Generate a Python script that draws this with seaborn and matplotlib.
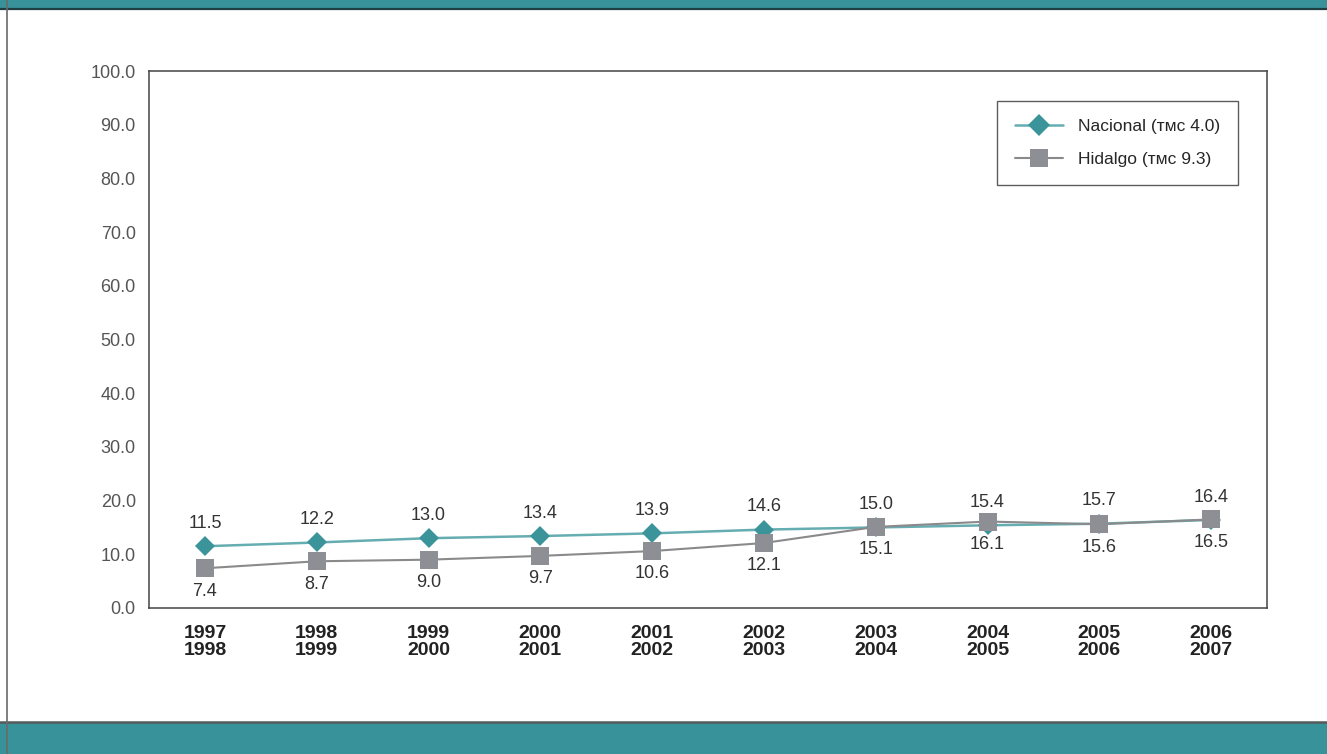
import numpy as np
import pandas as pd
import matplotlib.pyplot as plt
import seaborn as sns
from matplotlib.lines import Line2D

periodos = ['1997\n1998', '1998\n1999', '1999\n2000', '2000\n2001', '2001\n2002',
            '2002\n2003', '2003\n2004', '2004\n2005', '2005\n2006', '2006\n2007']
nacional = [11.5, 12.2, 13.0, 13.4, 13.9, 14.6, 15.0, 15.4, 15.7, 16.4]
hidalgo = [7.4, 8.7, 9.0, 9.7, 10.6, 12.1, 15.1, 16.1, 15.6, 16.5]
series = ['Nacional (ᴛᴍᴄ 4.0)', 'Hidalgo (ᴛᴍᴄ 9.3)']
yticks = np.arange(0, 101, 10)

teal = '#3a9499'
teal_line = '#66adb1'
grey = '#8e8f94'
grey_line = '#8a8a8c'
band = '#379399'

sns.set_style('white')
plt.rcParams['font.family'] = ['Liberation Sans Narrow', 'Liberation Sans', 'DejaVu Sans']

df = pd.DataFrame({
    'x': list(range(len(periodos))) * 2,
    'valor': nacional + hidalgo,
    'serie': [series[0]] * len(periodos) + [series[1]] * len(periodos),
})

fig = plt.figure(figsize=(13.27, 7.54), dpi=100)
ax = fig.add_axes([149 / 1327, 1 - 608 / 754, 1118 / 1327, 537 / 754])

sns.lineplot(data=df, x='x', y='valor', hue='serie', style='serie',
             palette={series[0]: teal_line, series[1]: grey_line},
             markers={series[0]: 'D', series[1]: 's'}, dashes=False,
             linewidth=1.8, markersize=12.5, markeredgewidth=0, ax=ax, legend=False)

# los marcadores tienen un tono distinto al de la linea
ax.lines[0].set_markerfacecolor(teal)
ax.lines[0].set_markersize(10.5)
ax.lines[1].set_markerfacecolor(grey)
ax.lines[1].set_linewidth(1.5)

# etiquetas de datos
for i, (n, h) in enumerate(zip(nacional, hidalgo)):
    ax.annotate(f'{n:.1f}', (i, n), xytext=(0, 16.5), textcoords='offset points',
                ha='center', va='center', fontsize=13, color='#333333')
    ax.annotate(f'{h:.1f}', (i, h), xytext=(0, -16.5), textcoords='offset points',
                ha='center', va='center', fontsize=13, color='#333333')

ax.set_xlim(-0.5, len(periodos) - 0.5)
ax.set_ylim(0, 100)
ax.set_yticks(yticks)
ax.set_yticklabels([f'{v:.1f}' for v in yticks], fontsize=13, color='#555555')
ax.set_xticks(range(len(periodos)))
ax.set_xticklabels(periodos, fontsize=14, fontweight='bold', color='#222222',
                   linespacing=1.05)
ax.set_xticks(np.arange(0.5, len(periodos) - 1, 1), minor=True)
ax.tick_params(axis='x', which='major', length=0, pad=12)
ax.tick_params(axis='x', which='minor', length=16, direction='inout', width=1.1,
               color='#444444')
ax.tick_params(axis='y', length=11, direction='inout', width=1.1, color='#444444', pad=4)
ax.set_xlabel('')
ax.set_ylabel('')
for s in ax.spines.values():
    s.set_visible(True)
    s.set_color('#444444')
    s.set_linewidth(1.1)

# leyenda
handles = [Line2D([], [], color=teal_line, lw=1.8, marker='D', markersize=11.5,
                  markerfacecolor=teal, markeredgewidth=0),
           Line2D([], [], color=grey_line, lw=1.5, marker='s', markersize=12.5,
                  markerfacecolor=grey, markeredgewidth=0)]
leg = ax.legend(handles, series, loc='upper right', bbox_to_anchor=(0.974, 0.944),
                borderaxespad=0, fontsize=12.5, frameon=True, fancybox=False,
                handlelength=2.76, numpoints=1, borderpad=1.05, labelspacing=0.98,
                handletextpad=0.85)
leg.get_frame().set_edgecolor('#333333')
leg.get_frame().set_linewidth(1.0)

# bandas de encabezado y pie
fig.patches.append(plt.Rectangle((0, 1 - 8 / 754), 1, 8 / 754, transform=fig.transFigure,
                                 color=band, zorder=0))
fig.lines.append(Line2D([0, 1], [1 - 9 / 754, 1 - 9 / 754], transform=fig.transFigure,
                        color='#1f3f42', lw=1.6))
fig.patches.append(plt.Rectangle((0, 0), 1, 31 / 754, transform=fig.transFigure,
                                 color=band, zorder=0))
fig.lines.append(Line2D([0, 1], [32 / 754, 32 / 754], transform=fig.transFigure,
                        color='#555a5c', lw=1.8))
fig.lines.append(Line2D([7 / 1327, 7 / 1327], [0, 1], transform=fig.transFigure,
                        color='#6a6a6a', lw=1.2))

fig.savefig('out.png', dpi=100)
